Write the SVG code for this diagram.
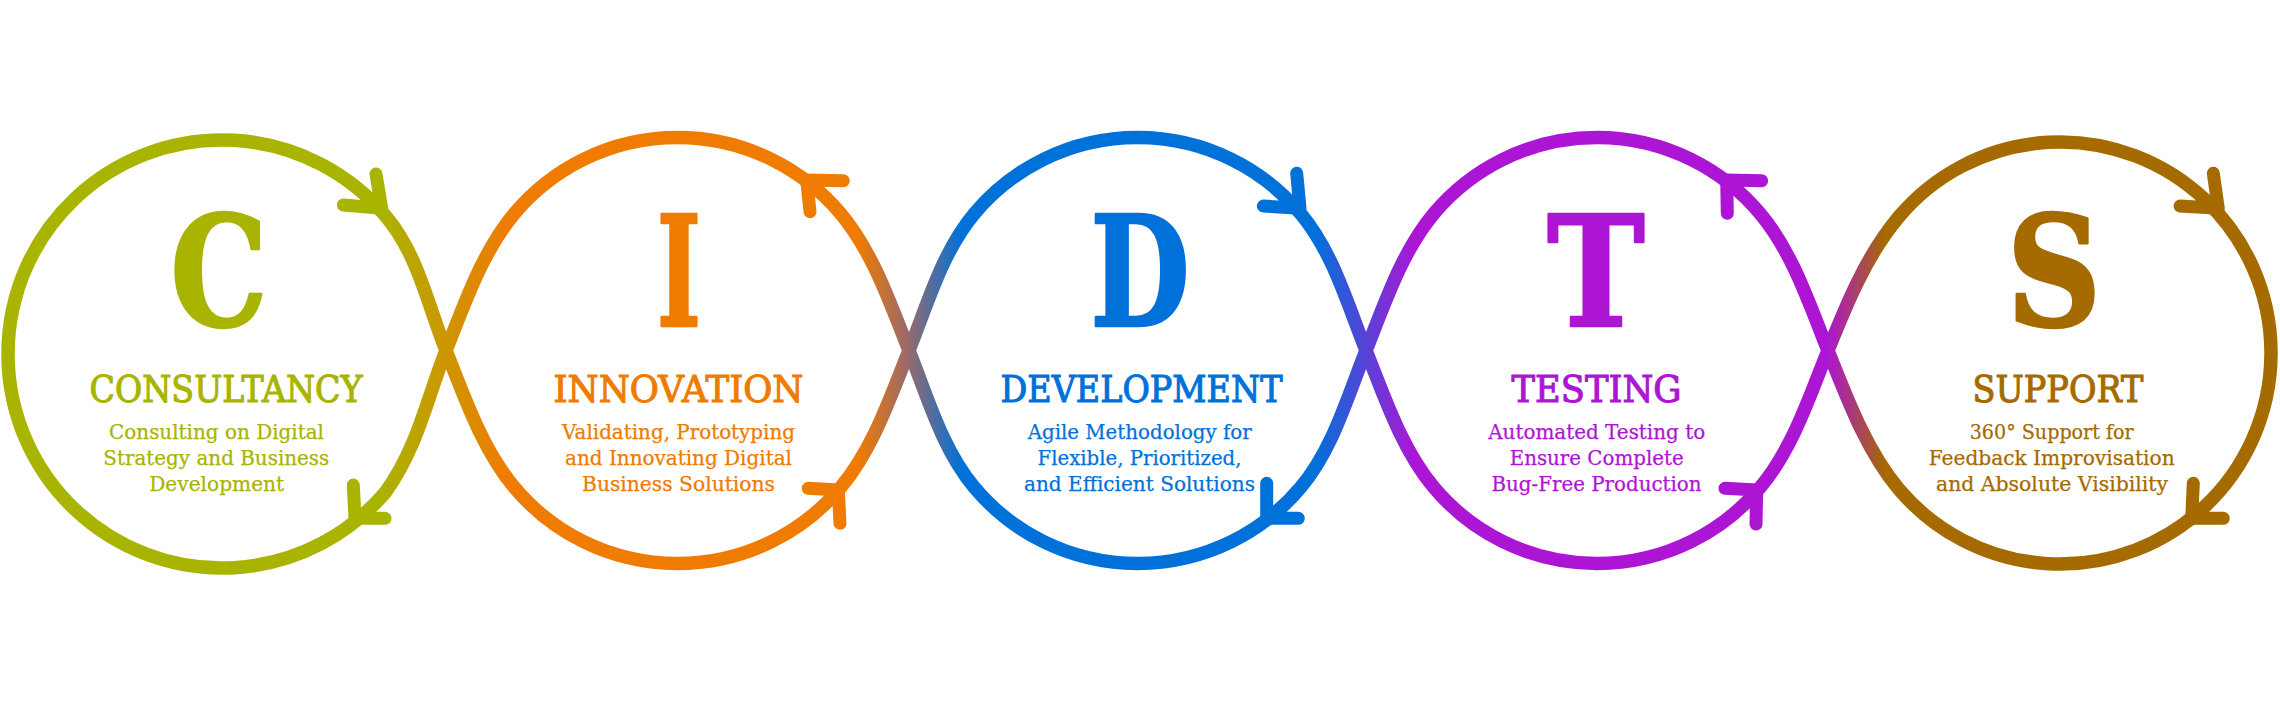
<svg xmlns="http://www.w3.org/2000/svg" width="2280" height="719" viewBox="0 0 2280 719">
<defs>
<linearGradient id="g" gradientUnits="userSpaceOnUse" x1="0" y1="0" x2="2280" y2="0">
<stop offset="0" stop-color="#a9b400"/>
<stop offset="0.16667" stop-color="#a9b400"/>
<stop offset="0.22149" stop-color="#ef7b00"/>
<stop offset="0.37632" stop-color="#ef7b00"/>
<stop offset="0.39868" stop-color="#976a6e"/>
<stop offset="0.42193" stop-color="#0071d9"/>
<stop offset="0.57675" stop-color="#0071d9"/>
<stop offset="0.62061" stop-color="#ad15d4"/>
<stop offset="0.80132" stop-color="#ad15d4"/>
<stop offset="0.82675" stop-color="#a56a00"/>
<stop offset="1" stop-color="#a56a00"/>
</linearGradient>
<style>
.ring{fill:none;stroke:url(#g);stroke-width:13.5;stroke-linejoin:round}
.arr{fill:none;stroke-width:13;stroke-linecap:round;stroke-linejoin:round}
.big{font-family:"DejaVu Serif","Liberation Serif",serif;font-weight:bold;font-size:153px;text-anchor:middle;stroke-width:2.5;stroke-linejoin:round}
.ttl{font-family:"DejaVu Serif","Liberation Serif",serif;font-size:36.5px;text-anchor:middle;stroke-width:1.1}
.dsc{font-family:"DejaVu Serif","Liberation Serif",serif;font-size:21px;text-anchor:middle;stroke-width:0.25}
.c1{fill:#a9b400;stroke:#a9b400}.c2{fill:#ef7b00;stroke:#ef7b00}.c3{fill:#0071d9;stroke:#0071d9}.c4{fill:#ad15d4;stroke:#ad15d4}.c5{fill:#a56a00;stroke:#a56a00}
</style>
</defs>
<rect width="2280" height="719" fill="#ffffff"/>
<g id="consultancy">
<path class="ring" d="M385.93,216.44 C418.08,254.74 427.45,304.1 446,350.5 C427.45,396.9 418.08,446.26 385.93,491.56 A214,214 0 1 1 385.93,216.44 Z"/>
<text class="big c1" transform="translate(219 0) scale(0.8 1)" x="0" y="326">C</text>
<text class="ttl c1" x="226" y="401.5" textLength="273" lengthAdjust="spacingAndGlyphs">CONSULTANCY</text>
<text class="dsc c1" x="216.5" y="438.5" textLength="215" lengthAdjust="spacingAndGlyphs">Consulting on Digital</text>
<text class="dsc c1" x="216.3" y="465" textLength="226" lengthAdjust="spacingAndGlyphs">Strategy and Business</text>
<text class="dsc c1" x="216.7" y="491" textLength="135" lengthAdjust="spacingAndGlyphs">Development</text>
</g>
<g id="innovation">
<path class="ring" d="M446,350.5 C464.55,304.1 482.18,251.89 514.33,213.59 A213,213 0 0 1 840.67,213.59 C872.82,251.89 890.45,304.1 909,350.5 C890.45,396.9 872.82,449.11 840.67,487.41 A213,213 0 0 1 514.33,487.41 C482.18,449.11 464.55,396.9 446,350.5 Z"/>
<text class="big c2" transform="translate(679 0) scale(0.62 1)" x="0" y="326">I</text>
<text class="ttl c2" x="678.5" y="401.5" textLength="250" lengthAdjust="spacingAndGlyphs">INNOVATION</text>
<text class="dsc c2" x="678.5" y="438.5" textLength="233" lengthAdjust="spacingAndGlyphs">Validating, Prototyping</text>
<text class="dsc c2" x="678.5" y="465" textLength="227" lengthAdjust="spacingAndGlyphs">and Innovating Digital</text>
<text class="dsc c2" x="678.5" y="491" textLength="193" lengthAdjust="spacingAndGlyphs">Business Solutions</text>
</g>
<g id="development">
<path class="ring" d="M909,350.5 C927.55,304.1 942.18,251.89 974.33,213.59 A213,213 0 0 1 1300.67,213.59 C1332.82,251.89 1347.45,304.1 1366,350.5 C1347.45,396.9 1332.82,449.11 1300.67,487.41 A213,213 0 0 1 974.33,487.41 C942.18,449.11 927.55,396.9 909,350.5 Z"/>
<text class="big c3" transform="translate(1140 0) scale(0.75 1)" x="0" y="326">D</text>
<text class="ttl c3" x="1141.5" y="401.5" textLength="282" lengthAdjust="spacingAndGlyphs">DEVELOPMENT</text>
<text class="dsc c3" x="1139.7" y="438.5" textLength="224" lengthAdjust="spacingAndGlyphs">Agile Methodology for</text>
<text class="dsc c3" x="1139.5" y="465" textLength="204" lengthAdjust="spacingAndGlyphs">Flexible, Prioritized,</text>
<text class="dsc c3" x="1139.5" y="491" textLength="231" lengthAdjust="spacingAndGlyphs">and Efficient Solutions</text>
</g>
<g id="testing">
<path class="ring" d="M1366,350.5 C1384.55,304.1 1401.68,251.89 1433.83,213.59 A213,213 0 0 1 1760.17,213.59 C1792.32,251.89 1809.45,304.1 1828,350.5 C1809.45,396.9 1792.32,449.11 1760.17,487.41 A213,213 0 0 1 1433.83,487.41 C1401.68,449.11 1384.55,396.9 1366,350.5 Z"/>
<text class="big c4" transform="translate(1596 0) scale(0.86 1)" x="0" y="326">T</text>
<text class="ttl c4" x="1596.5" y="401.5" textLength="170" lengthAdjust="spacingAndGlyphs">TESTING</text>
<text class="dsc c4" x="1596.7" y="438.5" textLength="217" lengthAdjust="spacingAndGlyphs">Automated Testing to</text>
<text class="dsc c4" x="1596.7" y="465" textLength="174" lengthAdjust="spacingAndGlyphs">Ensure Complete</text>
<text class="dsc c4" x="1596.5" y="491" textLength="210" lengthAdjust="spacingAndGlyphs">Bug-Free Production</text>
</g>
<g id="support">
<path class="ring" d="M1828,350.5 C1846.55,304.1 1866.22,255.67 1898.37,217.37 A211,211 0 1 1 1898.37,488.63 C1866.22,450.33 1846.55,396.9 1828,350.5 Z"/>
<text class="big c5" transform="translate(2054 0) scale(0.86 1)" x="0" y="326">S</text>
<text class="ttl c5" x="2058" y="401.5" textLength="171" lengthAdjust="spacingAndGlyphs">SUPPORT</text>
<text class="dsc c5" x="2051.7" y="438.5" textLength="164" lengthAdjust="spacingAndGlyphs">360° Support for</text>
<text class="dsc c5" x="2051.7" y="465" textLength="246" lengthAdjust="spacingAndGlyphs">Feedback Improvisation</text>
<text class="dsc c5" x="2052" y="491" textLength="232" lengthAdjust="spacingAndGlyphs">and Absolute Visibility</text>
</g>
<g id="connectors">
<path class="arr" stroke="#a9b400" d="M376,174 L381.7,208.3 L343.3,205"/>
<path class="arr" stroke="#a9b400" d="M353.3,485 L355,518.3 L385,518.3"/>
<path class="arr" stroke="#ef7b00" d="M843.3,180.7 L806.7,180 L810,211.7"/>
<path class="arr" stroke="#ef7b00" d="M808.3,488.3 L838.3,490 L840,523.3"/>
<path class="arr" stroke="#0071d9" d="M1296.7,173.3 L1300,208.3 L1263.3,206"/>
<path class="arr" stroke="#0071d9" d="M1266.7,483.3 L1266.7,518.3 L1298.3,518.3"/>
<path class="arr" stroke="#ad15d4" d="M1761.7,180.7 L1726.7,180 L1727.3,213.3"/>
<path class="arr" stroke="#ad15d4" d="M1725,488.3 L1756.7,490 L1756,524"/>
<path class="arr" stroke="#a56a00" d="M2213.3,173.3 L2218.3,208.3 L2180,206"/>
<path class="arr" stroke="#a56a00" d="M2193.3,483.3 L2191.7,518.3 L2223.3,518.3"/>
</g>
</svg>
